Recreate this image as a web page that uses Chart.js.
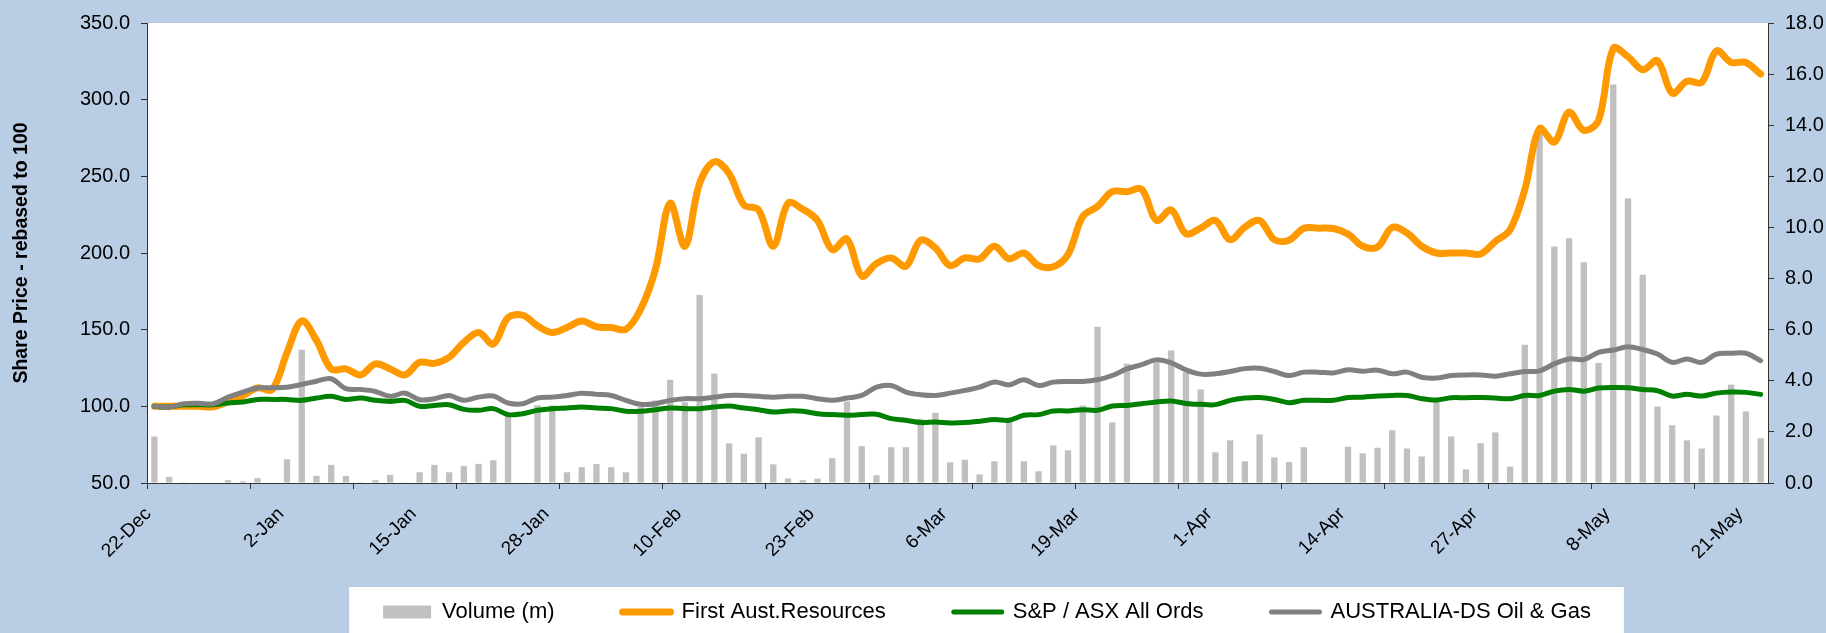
<!DOCTYPE html>
<html>
<head>
<meta charset="utf-8">
<title>First Aust.Resources - share price</title>
<script src="https://cdn.jsdelivr.net/npm/chart.js@4.4.1/dist/chart.umd.min.js"></script>
<style>
  html, body { margin: 0; padding: 0; background: #B9CDE5; }
  canvas { display: block; }
</style>
</head>
<body>
<canvas id="myChart" width="1826" height="633"></canvas>
<script>
// trading days, 22-Dec-2008 to 22-May-2009
const dates = [
  '22-Dec','23-Dec','24-Dec','25-Dec','26-Dec',
  '29-Dec','30-Dec','31-Dec','1-Jan','2-Jan',
  '5-Jan','6-Jan','7-Jan','8-Jan','9-Jan',
  '12-Jan','13-Jan','14-Jan','15-Jan','16-Jan',
  '19-Jan','20-Jan','21-Jan','22-Jan','23-Jan',
  '26-Jan','27-Jan','28-Jan','29-Jan','30-Jan',
  '2-Feb','3-Feb','4-Feb','5-Feb','6-Feb',
  '9-Feb','10-Feb','11-Feb','12-Feb','13-Feb',
  '16-Feb','17-Feb','18-Feb','19-Feb','20-Feb',
  '23-Feb','24-Feb','25-Feb','26-Feb','27-Feb',
  '2-Mar','3-Mar','4-Mar','5-Mar','6-Mar',
  '9-Mar','10-Mar','11-Mar','12-Mar','13-Mar',
  '16-Mar','17-Mar','18-Mar','19-Mar','20-Mar',
  '23-Mar','24-Mar','25-Mar','26-Mar','27-Mar',
  '30-Mar','31-Mar','1-Apr','2-Apr','3-Apr',
  '6-Apr','7-Apr','8-Apr','9-Apr','10-Apr',
  '13-Apr','14-Apr','15-Apr','16-Apr','17-Apr',
  '20-Apr','21-Apr','22-Apr','23-Apr','24-Apr',
  '27-Apr','28-Apr','29-Apr','30-Apr','1-May',
  '4-May','5-May','6-May','7-May','8-May',
  '11-May','12-May','13-May','14-May','15-May',
  '18-May','19-May','20-May','21-May','22-May'
];

const tickLabels = ['22-Dec','2-Jan','15-Jan','28-Jan','10-Feb','23-Feb','6-Mar',
  '19-Mar','1-Apr','14-Apr','27-Apr','8-May','21-May'];

// volume in millions (right axis)
const volume = [
  1.82, 0.24, 0.03, 0, 0, 0.11, 0.07, 0.19, 0, 0.93,
  5.21, 0.28, 0.71, 0.28, 0.03, 0.11, 0.32, 0.03, 0.42, 0.71,
  0.42, 0.67, 0.75, 0.89, 2.63, 0, 3.04, 3.04, 0.42, 0.62,
  0.74, 0.62, 0.42, 2.97, 3.23, 4.04, 3.16, 7.36, 4.28, 1.55,
  1.15, 1.79, 0.73, 0.18, 0.11, 0.17, 0.97, 3.19, 1.44, 0.3,
  1.4, 1.4, 2.51, 2.75, 0.81, 0.91, 0.34, 0.85, 2.41, 0.85,
  0.46, 1.47, 1.28, 3.03, 6.11, 2.37, 4.67, 0, 4.72, 5.18,
  4.33, 3.66, 1.2, 1.67, 0.85, 1.9, 1.0, 0.82, 1.4, 0,
  0, 1.42, 1.16, 1.38, 2.06, 1.35, 1.04, 3.2, 1.82, 0.53,
  1.56, 1.98, 0.64, 5.41, 13.9, 9.25, 9.58, 8.64, 4.7, 15.59,
  11.14, 8.15, 2.99, 2.26, 1.67, 1.35, 2.64, 3.85, 2.8, 1.75
];

// rebased to 100 (left axis)
const firstAust = [
  100, 100, 100, 100, 99.7, 103, 107, 112, 111, 135,
  155.7, 143, 124.4, 124.4, 120.5, 127.7, 124.4, 120.5, 128.7, 128,
  132, 141.7, 148.2, 140.6, 157.9, 159.4, 152.5, 148.2, 151.4, 155.7,
  151.9, 151.4, 150.3, 163.3, 189.2, 232.5, 204.4, 245.4, 259.5, 251.9,
  231.4, 228.1, 204.4, 232.5, 228.6, 221.2, 202.2, 209.1, 185, 193.1,
  196.8, 191.4, 208.3, 203.3, 191.8, 196.8, 196.2, 204.4, 196.2, 200,
  191.8, 191, 199, 223.8, 230.3, 240, 240, 241.5, 221.2, 228.1,
  212.6, 216.2, 221.2, 208.7, 216.9, 221.2, 208.7, 208.3, 216.2, 216.2,
  216, 212.4, 204.4, 203.9, 216.7, 213, 204.4, 200, 200, 200,
  199.4, 207.6, 215.2, 241.5, 281.1, 272.4, 291.9, 280, 286.5, 333.4,
  328, 319.5, 325.4, 304.2, 312, 311.3, 331.8, 324.3, 324.3, 316.7
];

const asxAllOrds = [
  100, 99.6, 101, 101, 101, 102.2, 102.8, 104.5, 104.5, 104.5,
  103.9, 105.4, 106.5, 104.5, 105.4, 103.9, 103.2, 103.9, 100, 100.6,
  101, 98, 97.4, 98.5, 94.6, 95.2, 97.4, 98.5, 98.9, 99.6,
  98.9, 98.5, 96.8, 96.8, 97.8, 98.9, 98.5, 98.5, 99.6, 100.2,
  98.9, 97.8, 96.3, 97, 96.8, 95.2, 94.6, 94.2, 94.6, 94.8,
  92, 90.9, 89.4, 89.8, 89.2, 89.4, 90.3, 91.4, 90.9, 94.2,
  94.6, 97, 97, 97.8, 97.4, 100.2, 100.6, 101.7, 102.8, 103.5,
  101.9, 101.3, 101.1, 103.9, 105.4, 105.8, 104.5, 102.4, 103.9, 103.9,
  103.9, 105.8, 106, 106.7, 107.1, 107.1, 105, 104.1, 105.6, 105.6,
  105.8, 105.4, 105, 107.1, 107.1, 109.9, 111, 109.9, 111.9, 112.3,
  112.1, 111, 110.2, 106.7, 107.8, 106.7, 108.6, 109.3, 109.1, 107.8
];

const ausOilGas = [
  100, 99.6, 101.7, 102, 101.7, 106, 109.3, 112, 112.1, 112.5,
  114.3, 116.4, 118, 111.5, 111, 109.7, 106.5, 108.6, 104.3, 105,
  107.1, 103.9, 106, 106.7, 102.2, 101.7, 105.4, 106, 107.1, 108.6,
  107.8, 107.1, 103.9, 101.3, 101.7, 103.9, 105, 105, 106, 107.1,
  107.1, 106.5, 106, 106.5, 106.5, 105, 103.9, 105.4, 107.1, 112.5,
  113.6, 109.3, 107.6, 107.1, 108.6, 110.4, 112.5, 115.8, 114, 117.3,
  113.6, 115.8, 116.2, 116.2, 117.3, 120.1, 124.4, 127.2, 130.3, 128.3,
  123.8, 121, 121.2, 122.7, 124.6, 124.8, 122.7, 120.1, 122.3, 122.3,
  121.8, 123.8, 122.9, 123.6, 121.2, 122.3, 119, 118.4, 120.1, 120.5,
  120.5, 119.7, 121.2, 122.7, 123.1, 127.7, 130.9, 130.5, 135.2, 136.7,
  138.9, 137, 134.1, 128.7, 130.9, 128.7, 134.1, 134.6, 134.6, 129.8
];

const legendShift = 74;

Chart.defaults.font.family = "'Liberation Sans', Arial, sans-serif";
Chart.defaults.color = '#000';

const chartBg = {
  id: 'chartBg',
  afterLayout(chart) {
    // legend sits right of centre in the original
    chart.legend.left += legendShift;
    chart.legend.right += legendShift;
    // let the rotated date labels run down past the legend top
    chart.scales.x.bottom = chart.height;
  },
  beforeDraw(chart) {
    const c = chart.ctx;
    const a = chart.chartArea;
    c.save();
    c.fillStyle = '#B9CDE5';
    c.fillRect(0, 0, chart.width, chart.height);
    c.fillStyle = '#FFFFFF';
    c.fillRect(a.left, a.top, a.right - a.left, a.bottom - a.top);
    const hb = chart.legend.legendHitBoxes;
    if (hb && hb.length) {
      const first = hb[0];
      const last = hb[hb.length - 1];
      const x0 = first.left - 34;
      const x1 = last.left + last.width + 33;
      const y0 = first.top - 14;
      c.fillRect(x0, y0, x1 - x0, chart.height - y0);
    }
    c.restore();
  }
};

const ctx = document.getElementById('myChart');
new Chart(ctx, {
  type: 'bar',
  data: {
    labels: dates,
    datasets: [{
      type: 'bar',
      label: 'Volume (m)',
      data: volume,
      yAxisID: 'y1',
      backgroundColor: '#C0C0C0',
      borderWidth: 0,
      barPercentage: 0.43,
      categoryPercentage: 1,
      order: 4
    }, {
      type: 'line',
      label: 'First Aust.Resources',
      data: firstAust,
      yAxisID: 'y',
      borderColor: '#FF9900',
      backgroundColor: '#FF9900',
      borderWidth: 7,
      pointRadius: 0,
      tension: 0.35,
      borderCapStyle: 'round',
      borderJoinStyle: 'round',
      order: 3
    }, {
      type: 'line',
      label: 'S&P / ASX All Ords',
      data: asxAllOrds,
      yAxisID: 'y',
      borderColor: '#008000',
      backgroundColor: '#008000',
      borderWidth: 5,
      pointRadius: 0,
      tension: 0.35,
      borderCapStyle: 'round',
      borderJoinStyle: 'round',
      order: 2
    }, {
      type: 'line',
      label: 'AUSTRALIA-DS Oil & Gas',
      data: ausOilGas,
      yAxisID: 'y',
      borderColor: '#808080',
      backgroundColor: '#808080',
      borderWidth: 5,
      pointRadius: 0,
      tension: 0.35,
      borderCapStyle: 'round',
      borderJoinStyle: 'round',
      order: 1
    }]
  },
  options: {
    responsive: false,
    animation: false,
    layout: { padding: { top: 20, bottom: 0, left: 0, right: 0 } },
    scales: {
      x: {
        offset: true,
        grid: {
          offset: true,
          drawOnChartArea: false,
          tickLength: 6,
          color: (c) => (c.index !== undefined && c.index % 7 === 0) ? '#333333' : 'rgba(0,0,0,0)'
        },
        border: { display: true, color: '#333333', width: 1 },
        ticks: {
          autoSkip: false,
          minRotation: 45,
          maxRotation: 45,
          padding: 14,
          labelOffset: -6,
          color: '#000',
          font: { size: 19 },
          callback: function (value) {
            const lbl = this.getLabelForValue(value);
            return tickLabels.includes(lbl) ? lbl : '';
          }
        },
        afterFit: (s) => { s.height = 50; }
      },
      y: {
        position: 'left',
        min: 50,
        max: 350,
        ticks: {
          stepSize: 50,
          padding: 11,
          color: '#000',
          font: { size: 20 },
          callback: (v) => Number(v).toFixed(1)
        },
        grid: { drawOnChartArea: false, tickLength: 6, color: '#333333' },
        border: { display: true, color: '#333333', width: 1 },
        title: {
          display: true,
          text: 'Share Price - rebased to 100',
          color: '#000',
          font: { size: 19.5, weight: 'bold' },
          padding: { top: 10, bottom: 0 }
        },
        afterFit: (s) => { s.width = 147; }
      },
      y1: {
        position: 'right',
        min: 0,
        max: 18,
        ticks: {
          stepSize: 2,
          padding: 11,
          color: '#000',
          font: { size: 20 },
          callback: (v) => Number(v).toFixed(1)
        },
        grid: { drawOnChartArea: false, tickLength: 6, color: '#333333' },
        border: { display: true, color: '#333333', width: 1 },
        afterFit: (s) => { s.width = 58; }
      }
    },
    plugins: {
      legend: {
        position: 'bottom',
        labels: {
          usePointStyle: true,
          pointStyleWidth: 48,
          boxHeight: 13,
          padding: 68,
          color: '#000',
          font: { size: 22 },
          generateLabels: (chart) => chart.data.datasets.map((ds, i) => ({
            text: ds.label,
            fillStyle: ds.backgroundColor,
            strokeStyle: ds.type === 'line' ? ds.borderColor : 'rgba(0,0,0,0)',
            lineWidth: ds.type === 'line' ? ds.borderWidth : 0,
            lineCap: 'round',
            pointStyle: ds.type === 'line' ? 'line' : 'rect',
            fontColor: '#000',
            hidden: false,
            datasetIndex: i
          }))
        }
      },
      tooltip: { enabled: false }
    }
  },
  plugins: [chartBg]
});
</script>
</body>
</html>
